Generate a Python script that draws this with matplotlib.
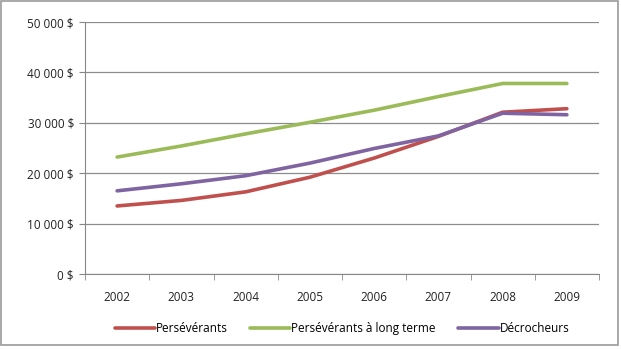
import matplotlib.pyplot as plt
from matplotlib.patches import Rectangle
from matplotlib.ticker import FuncFormatter
import numpy as np

years = ['2002', '2003', '2004', '2005', '2006', '2007', '2008', '2009']
perseverants = [13500, 14600, 16300, 19200, 23000, 27300, 32100, 32800]
long_terme = [23200, 25400, 27800, 30100, 32500, 35200, 37800, 37800]
decrocheurs = [16500, 17900, 19500, 22000, 24900, 27400, 31900, 31600]

series = [
    ('Persévérants', perseverants, '#C0504D'),
    ('Persévérants à long terme', long_terme, '#9BBB59'),
    ('Décrocheurs', decrocheurs, '#8064A2'),
]

plt.rcParams['font.family'] = ['Open Sans', 'DejaVu Sans']

fig = plt.figure(figsize=(6.21, 3.5), dpi=100)
ax = fig.add_axes([85 / 621, 1 - 274 / 350, 514 / 621, 252 / 350])

x = np.arange(len(years))
for name, vals, col in series:
    ax.plot(x, vals, color=col, linewidth=2.6, label=name, solid_capstyle='round')

ax.set_xlim(-0.5, len(years) - 0.5)
ax.set_ylim(0, 50000)
ax.set_yticks(np.arange(0, 50001, 10000))
ax.yaxis.set_major_formatter(FuncFormatter(lambda v, p: f'{int(v):,} $'.replace(',', ' ')))
ax.set_xticks(x)
ax.set_xticklabels(years)
ax.set_xticks(np.arange(-0.5, len(years)), minor=True)
ax.tick_params(axis='x', which='major', length=0, pad=12, labelsize=8.5, colors='#222222')
ax.tick_params(axis='x', which='minor', length=4, color='#888888')
ax.tick_params(axis='y', length=4, color='#888888', labelsize=8.5, labelcolor='#222222', pad=4)

ax.grid(axis='y', color='#8c8c8c', linewidth=0.9)
ax.set_axisbelow(True)
for s in ['top', 'right']:
    ax.spines[s].set_visible(False)
for s in ['left', 'bottom']:
    ax.spines[s].set_color('#888888')

ax.legend(loc='upper center', bbox_to_anchor=(0.5, -0.15), ncol=3, frameon=False,
          fontsize=8.5, handlelength=3.4, handletextpad=0.1, columnspacing=1.9)

fig.patches.append(Rectangle((0.5 / 621, 1 - 345 / 350), 617 / 621, 344 / 350,
                             transform=fig.transFigure, fill=False,
                             edgecolor='#9a9a9a', linewidth=1.2))

fig.savefig('out.png', dpi=100)
